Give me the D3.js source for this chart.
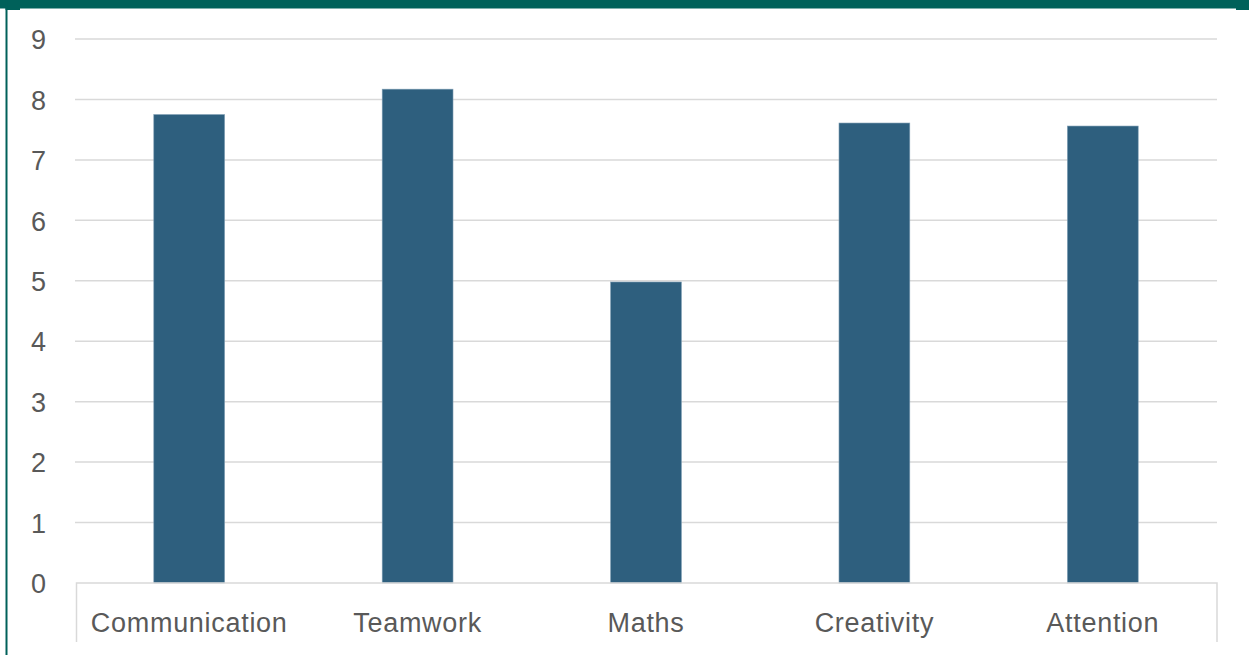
<!DOCTYPE html>
<html>
<head>
<meta charset="utf-8">
<script src="https://cdn.jsdelivr.net/npm/d3@7"></script>
<style>
  html, body { margin: 0; padding: 0; background: #ffffff; }
  svg { display: block; }
  text { font-family: "Liberation Sans", Arial, Helvetica, sans-serif; fill: #595959; }
</style>
</head>
<body>
<svg id="chart" width="1249" height="655"></svg>
<script>
// Average scores per skill
const categories = ["Communication", "Teamwork", "Maths", "Creativity", "Attention"];
const scores = [7.75, 8.17, 4.98, 7.61, 7.56];
const yTickValues = [0, 1, 2, 3, 4, 5, 6, 7, 8, 9];

const W = 1249, H = 655;
const plot = { left: 75, right: 1217, top: 39, bottom: 583 };

const svg = d3.select("#chart");

// Frame: dark teal header strip and left rule
const frame = "#00615a";
svg.append("rect").attr("x", 0).attr("y", 0).attr("width", W).attr("height", 8.5).attr("fill", frame);
svg.append("rect").attr("x", 5.5).attr("y", 0).attr("width", 14.5).attr("height", 10).attr("fill", frame);
svg.append("rect").attr("x", 1236).attr("y", 0).attr("width", 13).attr("height", 10).attr("fill", frame);
svg.append("rect").attr("x", 5.5).attr("y", 0).attr("width", 2).attr("height", H).attr("fill", frame);

const x = d3.scaleBand()
  .domain(categories)
  .range([plot.left, plot.right])
  .paddingInner(0.69)
  .paddingOuter(0.345);

const y = d3.scaleLinear()
  .domain([0, 9])
  .range([plot.bottom, plot.top]);

// Horizontal gridlines
svg.append("g")
  .selectAll("line")
  .data(yTickValues.filter(d => d > 0))
  .join("line")
  .attr("x1", plot.left)
  .attr("x2", plot.right)
  .attr("y1", d => y(d))
  .attr("y2", d => y(d))
  .attr("stroke", "#d9d9d9")
  .attr("stroke-width", 1.5);

// Y tick labels
const yAxis = svg.append("g")
  .attr("transform", `translate(46,0)`)
  .call(d3.axisLeft(y).tickValues(yTickValues).tickSize(0).tickPadding(0).tickFormat(d3.format("d")));
yAxis.select(".domain").remove();
yAxis.selectAll("text")
  .style("font-size", "27px")
  .attr("fill", "#595959")
  .attr("dy", "0.36em");

// Bars
svg.append("g")
  .selectAll("rect")
  .data(categories.map((c, i) => ({ c, v: scores[i] })))
  .join("rect")
  .attr("x", d => x(d.c))
  .attr("width", x.bandwidth())
  .attr("y", d => y(d.v))
  .attr("height", d => y(0) - y(d.v))
  .attr("fill", "#2e5f7e")
  .attr("stroke", "#7d9db3")
  .attr("stroke-width", 0.6);

// Category axis box: baseline with end rules
const axisColor = "#d9d9d9";
svg.append("path")
  .attr("d", `M${plot.left + 1.5},642 V${plot.bottom} H${plot.right} V642`)
  .attr("fill", "none")
  .attr("stroke", axisColor)
  .attr("stroke-width", 1.5);

const xAxis = svg.append("g")
  .attr("transform", `translate(0,${plot.bottom})`)
  .call(d3.axisBottom(x).tickSize(0).tickPadding(0));
xAxis.select(".domain").remove();
xAxis.selectAll("text")
  .style("font-size", "27px")
  .style("letter-spacing", "0.7px")
  .attr("fill", "#595959")
  .attr("dy", "0")
  .attr("y", 48.5);
</script>
</body>
</html>
